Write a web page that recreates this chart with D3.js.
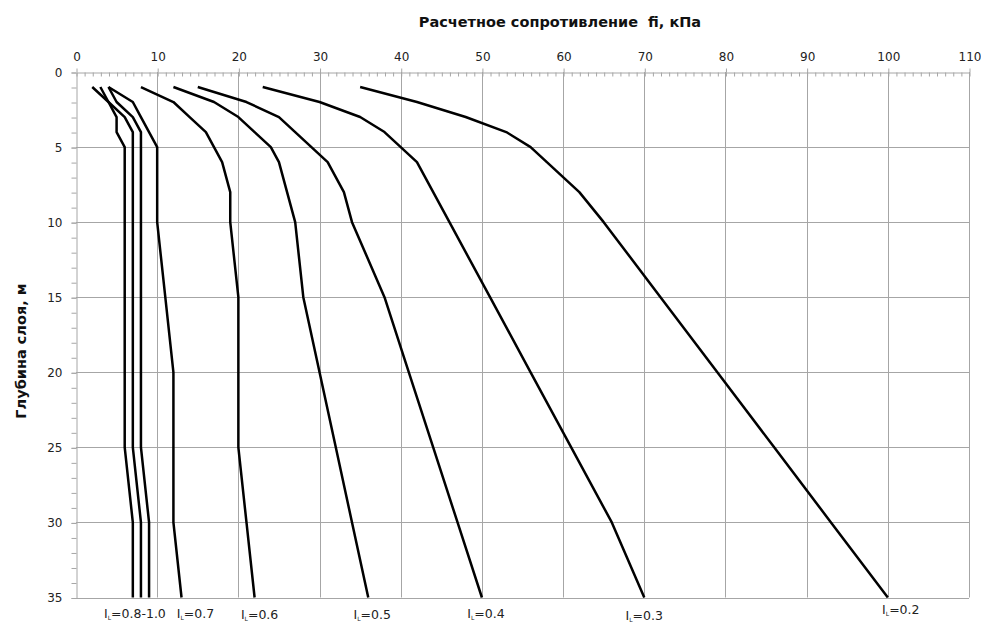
<!DOCTYPE html>
<html>
<head>
<meta charset="utf-8">
<script src="https://cdn.jsdelivr.net/npm/d3@7"></script>
<style>
  body { margin: 0; background: #fff; }
  text { font-family: "DejaVu Sans", sans-serif; }
  .tick text { fill: #222; font-size: 12px; }
  .grid line { stroke: #a6a6a6; stroke-width: 1; }
  .curve { fill: none; stroke: #000; stroke-width: 2.5; stroke-linejoin: round; }
</style>
</head>
<body>
<script>
var width = 981,
    height = 623;

// depth of layer, m
var depths = [1, 2, 3, 4, 5, 6, 8, 10, 15, 20, 25, 30, 35];

// fi, kPa for each liquidity index IL
var il02 = [35, 42, 48, 53, 56, 58, 62, 65, 72, 79, 86, 93, 100];
var il03 = [23, 30, 35, 38, 40, 42, 44, 46, 51, 56, 61, 66, 70];
var il04 = [15, 21, 25, 27, 29, 31, 33, 34, 38, 41, 44, 47, 50];
var il05 = [12, 17, 20, 22, 24, 25, 26, 27, 28, 30, 32, 34, 36];
var il06 = [8, 12, 14, 16, 17, 18, 19, 19, 20, 20, 20, 21, 22];
var il07 = [4, 7, 8, 9, 10, 10, 10, 10, 11, 12, 12, 12, 13];
var il08 = [4, 5, 7, 8, 8, 8, 8, 8, 8, 8, 8, 9, 9];
var il09 = [3, 4, 6, 7, 7, 7, 7, 7, 7, 7, 7, 8, 8];
var il10 = [2, 4, 5, 5, 6, 6, 6, 6, 6, 6, 6, 7, 7];

var xTicks = [0, 10, 20, 30, 40, 50, 60, 70, 80, 90, 100, 110];
var yTicks = [0, 5, 10, 15, 20, 25, 30, 35];

var curves = [il02, il03, il04, il05, il06, il07, il08, il09, il10];

// labels at the curve ends: text after "I", subscript L, and the curve it belongs to
var labels = [
  {text: "=0.8-1.0", curve: il09},
  {text: "=0.7", curve: il07},
  {text: "=0.6", curve: il06},
  {text: "=0.5", curve: il05},
  {text: "=0.4", curve: il04},
  {text: "=0.3", curve: il03},
  {text: "=0.2", curve: il02}
];

var x = d3.scaleLinear().domain([0, 110]).range([76, 969]);
var y = d3.scaleLinear().domain([0, 35]).range([72, 597.5]);

var svg = d3.select("body").append("svg")
    .attr("width", width)
    .attr("height", height);

// grid
var grid = svg.append("g").attr("class", "grid");
grid.selectAll("line.v")
    .data(xTicks.slice(1))
    .enter().append("line")
    .attr("x1", d => Math.round(x(d)) + 0.5)
    .attr("x2", d => Math.round(x(d)) + 0.5)
    .attr("y1", y(0))
    .attr("y2", y(35));
grid.selectAll("line.h")
    .data(yTicks.slice(1))
    .enter().append("line")
    .attr("x1", x(0))
    .attr("x2", x(110))
    .attr("y1", d => Math.round(y(d)) + 0.5)
    .attr("y2", d => Math.round(y(d)) + 0.5);

function styleAxis(g) {
  g.selectAll(".domain").attr("stroke", "#a6a6a6");
  g.selectAll(".tick line").attr("stroke", "#a6a6a6");
}

// top axis: minor ticks inside, major outside
svg.append("g")
    .attr("transform", "translate(0.5," + (Math.round(y(0)) + 0.5) + ")")
    .call(d3.axisTop(x).tickValues(d3.range(0, 111, 1)).tickSize(-4).tickSizeOuter(0).tickFormat(""))
    .call(styleAxis);
svg.append("g")
    .attr("transform", "translate(0.5," + (Math.round(y(0)) + 0.5) + ")")
    .call(d3.axisTop(x).tickValues(xTicks).tickSize(4).tickSizeOuter(0).tickPadding(8))
    .call(styleAxis)
    .call(g => g.select(".domain").remove());

// left axis
svg.append("g")
    .attr("transform", "translate(" + (Math.round(x(0)) + 0.5) + ",0.5)")
    .call(d3.axisLeft(y).tickValues(d3.range(0, 36, 1)).tickSize(5).tickSizeOuter(0).tickFormat(""))
    .call(styleAxis);
svg.append("g")
    .attr("transform", "translate(" + (Math.round(x(0)) + 0.5) + ",0.5)")
    .call(d3.axisLeft(y).tickValues(yTicks).tickSize(5).tickSizeOuter(0).tickPadding(9))
    .call(styleAxis)
    .call(g => g.select(".domain").remove());

// curves
var line = d3.line()
    .x(d => x(d[0]))
    .y(d => y(d[1]));

svg.selectAll("path.curve")
    .data(curves)
    .enter().append("path")
    .attr("class", "curve")
    .attr("d", c => line(c.map((v, i) => [v, depths[i]])));

// curve labels
var labelDx = [-6, 14, 5, 4, 4, 0, 13];
var labelDy = [618, 618, 619, 619, 618, 620, 614];
var lab = svg.selectAll("text.lab")
    .data(labels)
    .enter().append("text")
    .attr("class", "lab")
    .attr("x", (d, i) => x(d.curve[d.curve.length - 1]) + labelDx[i])
    .attr("y", (d, i) => labelDy[i])
    .attr("text-anchor", "middle")
    .style("font-size", "12.5px")
    .style("fill", "#222");
lab.append("tspan").text("I");
lab.append("tspan").text("L").style("font-size", "6px").attr("dy", 2);
lab.append("tspan").text(d => d.text).attr("dy", -2);

// titles
svg.append("text")
    .attr("x", 560)
    .attr("y", 27)
    .attr("text-anchor", "middle")
    .style("font-size", "14.5px")
    .style("font-weight", "bold")
    .style("fill", "#111")
    .style("white-space", "pre")
    .text("Расчетное сопротивление  fi, кПа");

svg.append("text")
    .attr("transform", "translate(26,351) rotate(-90)")
    .attr("text-anchor", "middle")
    .style("font-size", "14.5px")
    .style("font-weight", "bold")
    .style("fill", "#111")
    .text("Глубина слоя, м");
</script>
</body>
</html>
